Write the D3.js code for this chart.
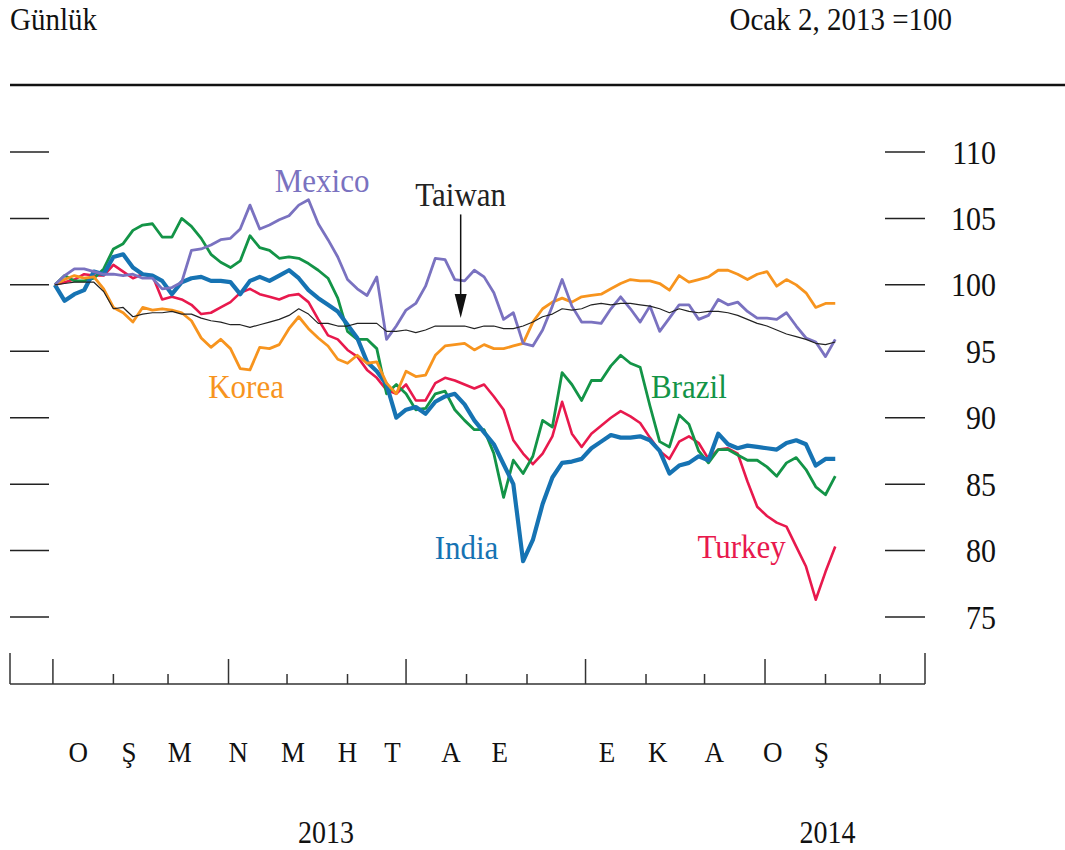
<!DOCTYPE html>
<html>
<head>
<meta charset="utf-8">
<script src="https://cdn.jsdelivr.net/npm/d3@7"></script>
<style>
  body { margin: 0; background: #fff; }
  svg text { font-family: "Liberation Serif", "Times New Roman", serif; fill: #111; }
</style>
</head>
<body>
<svg id="chart" width="1065" height="850"></svg>
<script>
/*
  Emerging market currencies, daily, Jan 2, 2013 = 100.
*/

// Observations every 5 days starting Jan 2, 2013.
const obsStart = new Date(2013, 0, 2);
const obsStep = 5;

const india = [100, 98.8, 99.3, 99.6, 101.0, 100.8, 102.1, 102.3, 101.3, 100.8,
  100.7, 100.3, 99.3, 100.2, 100.5, 100.6, 100.3, 100.3, 100.2, 99.3,
  100.3, 100.6, 100.3, 100.7, 101.1, 100.5, 99.6, 99.0, 98.5, 98.0,
  97.0, 96.0, 94.2, 93.5, 92.5, 90.0, 90.6, 90.8, 90.3, 91.2,
  91.6, 91.8, 91.0, 89.8, 88.9, 88.0, 86.5, 85.0, 79.2, 80.8,
  83.5, 85.5, 86.6, 86.7, 86.9, 87.7, 88.2, 88.7, 88.5, 88.5,
  88.6, 88.3, 87.5, 85.8, 86.4, 86.6, 87.1, 86.8, 88.8, 88.0,
  87.7, 87.9, 87.8, 87.7, 87.6, 88.1, 88.3, 88.0, 86.4, 86.9, 86.9];

const brazil = [100, 100.7, 100.3, 100.3, 100.5, 101.2, 102.7, 103.1, 104.1, 104.5,
  104.6, 103.6, 103.6, 105.0, 104.4, 103.5, 102.3, 101.7, 101.3, 101.8,
  103.7, 102.8, 102.6, 102.0, 102.1, 102.0, 101.6, 101.1, 100.5, 99.0,
  96.5, 95.9, 95.9, 95.2, 91.8, 92.5, 91.8, 90.6, 90.7, 91.8,
  92.0, 90.6, 89.8, 89.1, 89.1, 87.3, 84.0, 86.8, 85.8, 87.1,
  89.8, 89.3, 93.4, 92.5, 91.3, 92.8, 92.8, 93.9, 94.7, 94.1,
  93.8, 90.9, 88.2, 87.8, 90.2, 89.5, 87.5, 86.6, 87.6, 87.6,
  87.2, 86.8, 86.8, 86.3, 85.6, 86.6, 87.0, 86.1, 84.8, 84.2, 85.6];

const mexico = [100, 100.7, 101.2, 101.2, 101.0, 100.8, 100.8, 100.7, 100.8, 100.5,
  100.5, 99.7, 99.8, 100.2, 102.6, 102.7, 103.0, 103.4, 103.5, 104.2,
  106.0, 104.2, 104.5, 104.9, 105.2, 106.0, 106.4, 104.6, 103.4, 102.1,
  100.4, 99.7, 99.2, 100.6, 95.9, 96.9, 98.1, 98.6, 99.9, 102.0,
  101.9, 100.4, 100.3, 101.1, 100.6, 99.4, 97.4, 97.9, 95.6, 95.4,
  96.6, 98.4, 100.4, 98.4, 97.2, 97.2, 97.1, 98.2, 99.1, 98.2,
  97.2, 98.4, 96.5, 97.5, 98.5, 98.5, 97.4, 97.7, 98.9, 98.5,
  98.7, 98.0, 97.5, 97.5, 97.4, 97.9, 96.9, 96.0, 95.7, 94.6, 95.9];

const korea = [100, 100.4, 100.7, 100.5, 100.6, 99.7, 98.3, 97.9, 97.2, 98.3,
  98.1, 98.2, 98.1, 97.9, 97.3, 96.0, 95.3, 95.9, 95.2, 93.7,
  93.6, 95.3, 95.2, 95.5, 96.7, 97.6, 96.7, 96.0, 95.4, 94.4,
  94.1, 94.7, 94.1, 94.2, 92.6, 91.8, 93.5, 93.1, 93.2, 94.7,
  95.4, 95.5, 95.6, 95.1, 95.5, 95.2, 95.2, 95.4, 95.6, 97.2,
  98.2, 98.7, 99.0, 98.7, 99.1, 99.2, 99.3, 99.7, 100.1, 100.4,
  100.3, 100.3, 100.1, 99.6, 100.7, 100.2, 100.4, 100.6, 101.1, 101.1,
  100.8, 100.4, 100.8, 101.0, 99.9, 100.4, 100.0, 99.4, 98.3, 98.6, 98.6];

const turkey = [100, 100.2, 100.4, 100.8, 100.7, 100.7, 101.5, 101.0, 100.5, 100.8,
  100.7, 98.9, 99.1, 98.9, 98.5, 97.8, 97.9, 98.3, 98.7, 99.4,
  99.7, 99.3, 99.1, 98.9, 99.2, 99.3, 98.7, 97.4, 96.2, 95.9,
  95.1, 94.6, 93.6, 93.0, 92.1, 91.8, 92.5, 91.3, 91.3, 92.6,
  93.0, 92.8, 92.5, 92.2, 92.5, 91.6, 90.6, 88.3, 87.3, 86.5,
  87.3, 88.6, 91.2, 88.8, 87.8, 88.8, 89.4, 90.0, 90.5, 90.1,
  89.6, 88.5, 87.5, 86.9, 88.2, 88.6, 88.1, 86.9, 87.6, 87.7,
  87.3, 85.2, 83.3, 82.6, 82.1, 81.8, 80.3, 78.8, 76.3, 78.4, 80.3];

const taiwan = [100, 100.1, 100.2, 100.2, 100.2, 99.5, 98.2, 98.3, 97.6, 97.8,
  97.9, 97.9, 98.0, 97.8, 97.8, 97.5, 97.3, 97.2, 97.0, 97.0,
  96.8, 97.0, 97.2, 97.4, 97.7, 98.2, 97.8, 97.1, 97.1, 96.9,
  96.9, 97.1, 97.1, 97.1, 96.5, 96.5, 96.6, 96.4, 96.6, 96.9,
  96.9, 96.9, 96.9, 96.7, 96.9, 96.9, 96.7, 96.7, 96.9, 97.2,
  97.6, 97.8, 98.2, 98.1, 98.2, 98.5, 98.6, 98.5, 98.6, 98.6,
  98.5, 98.4, 98.2, 97.9, 98.2, 98.0, 97.9, 98.0, 98.0, 97.9,
  97.7, 97.4, 97.1, 96.9, 96.6, 96.3, 96.1, 95.9, 95.6, 95.5, 95.7];

// Axis labels.
const yTicks = [75, 80, 85, 90, 95, 100, 105, 110];
const monthLabels = ["O", "Ş", "M", "N", "M", "H", "T", "A", "E", "E", "K", "A", "O", "Ş"];
const monthLabelDates = ["2013-01-14", "2013-02-09", "2013-03-07", "2013-04-06", "2013-05-04",
  "2013-06-01", "2013-06-24", "2013-07-24", "2013-08-18", "2013-10-12", "2013-11-07",
  "2013-12-06", "2014-01-05", "2014-01-30"];
const yearLabels = ["2013", "2014"];
const yearLabelDates = ["2013-05-21", "2014-02-02"];

// Series names, colours and where their names sit.
const seriesNames = ["Turkey", "Brazil", "India", "Korea", "Mexico", "Taiwan"];
const seriesColors = ["#e8194d", "#139447", "#1673b3", "#f7941e", "#7a72c0", "#222222"];
const labelDates = ["2013-12-20", "2013-11-23", "2013-08-01", "2013-04-10", "2013-05-19", "2013-07-29"];
const labelValues = [79.45, 91.5, 79.4, 91.5, 107.0, 105.9];

const parseDay = d3.timeParse("%Y-%m-%d");
const obsDates = india.map((_, i) => d3.timeDay.offset(obsStart, obsStep * i));
const seriesValues = [turkey, brazil, india, korea, mexico, taiwan];
const seriesWidths = [2.6, 2.8, 4.2, 2.8, 2.8, 1.2];

let svg = d3.select("#chart");

// Scales.
let x = d3.scaleTime()
  .domain([new Date(2012, 11, 10), new Date(2014, 2, 24)])
  .range([10, 925]);
let y = d3.scaleLinear()
  .domain([75, 110])
  .range([617, 152]);

const baseY = 684;

// Type in the source is drawn a little taller than it is wide.
const addText = (px, py, str, size) => svg.append("text")
  .attr("transform", `translate(${px},${py}) scale(1,1.1)`)
  .style("font-size", size + "px")
  .text(str);

// Header.
addText(10, 30, "Günlük", 29);
addText(952, 30, "Ocak 2, 2013 =100", 29).attr("text-anchor", "end");
svg.append("line")
  .attr("x1", 10).attr("x2", 1065).attr("y1", 85).attr("y2", 85)
  .attr("stroke", "#111").attr("stroke-width", 2.5);

// Y ticks on both sides.
let yg = svg.append("g");
yTicks.forEach(v => {
  yg.append("line").attr("x1", 10).attr("x2", 49)
    .attr("y1", y(v)).attr("y2", y(v))
    .attr("stroke", "#222").attr("stroke-width", 1.5);
  yg.append("line").attr("x1", 885).attr("x2", 925)
    .attr("y1", y(v)).attr("y2", y(v))
    .attr("stroke", "#222").attr("stroke-width", 1.5);
  addText(996, y(v), v, 30)
    .attr("dy", "0.35em").attr("text-anchor", "end");
});

// X axis: baseline, month ticks (quarters taller), end posts.
let xg = svg.append("g").attr("stroke", "#333").attr("stroke-width", 1.5);
xg.append("line").attr("x1", x.range()[0]).attr("x2", x.range()[1])
  .attr("y1", baseY).attr("y2", baseY);
x.range().forEach(px => {
  xg.append("line").attr("x1", px).attr("x2", px)
    .attr("y1", baseY).attr("y2", 653);
});
d3.timeMonth.range(new Date(2013, 0, 1), new Date(2014, 2, 2)).forEach(m => {
  const tall = m.getMonth() % 3 === 0;
  xg.append("line").attr("x1", x(m)).attr("x2", x(m))
    .attr("y1", baseY).attr("y2", tall ? 659 : 674);
});

monthLabels.forEach((t, i) => {
  addText(x(parseDay(monthLabelDates[i])), 762, t, 27).attr("text-anchor", "middle");
});
yearLabels.forEach((t, i) => {
  addText(x(parseDay(yearLabelDates[i])), 843, t, 28).attr("text-anchor", "middle");
});

// Lines.
let line = d3.line()
  .x((d, i) => x(obsDates[i]))
  .y(d => y(d));

svg.append("g").selectAll("path")
  .data(seriesValues)
  .enter().append("path")
  .attr("d", d => line(d))
  .attr("fill", "none")
  .attr("stroke", (d, i) => seriesColors[i])
  .attr("stroke-width", (d, i) => seriesWidths[i])
  .attr("stroke-linejoin", "round");

// Series names.
seriesNames.forEach((n, i) => {
  addText(x(parseDay(labelDates[i])), y(labelValues[i]), n, 31)
    .attr("text-anchor", "middle")
    .style("fill", seriesColors[i]);
});

// Taiwan pointer arrow.
const arrowDate = parseDay("2013-07-29");
const ax = x(arrowDate), aTop = y(105.3), aTip = y(97.5);
svg.append("line").attr("x1", ax).attr("x2", ax)
  .attr("y1", aTop).attr("y2", aTip - 20)
  .attr("stroke", "#111").attr("stroke-width", 1.5);
svg.append("path")
  .attr("d", `M${ax - 6},${aTip - 24} L${ax + 6},${aTip - 24} L${ax},${aTip} Z`)
  .attr("fill", "#111");
</script>
</body>
</html>
